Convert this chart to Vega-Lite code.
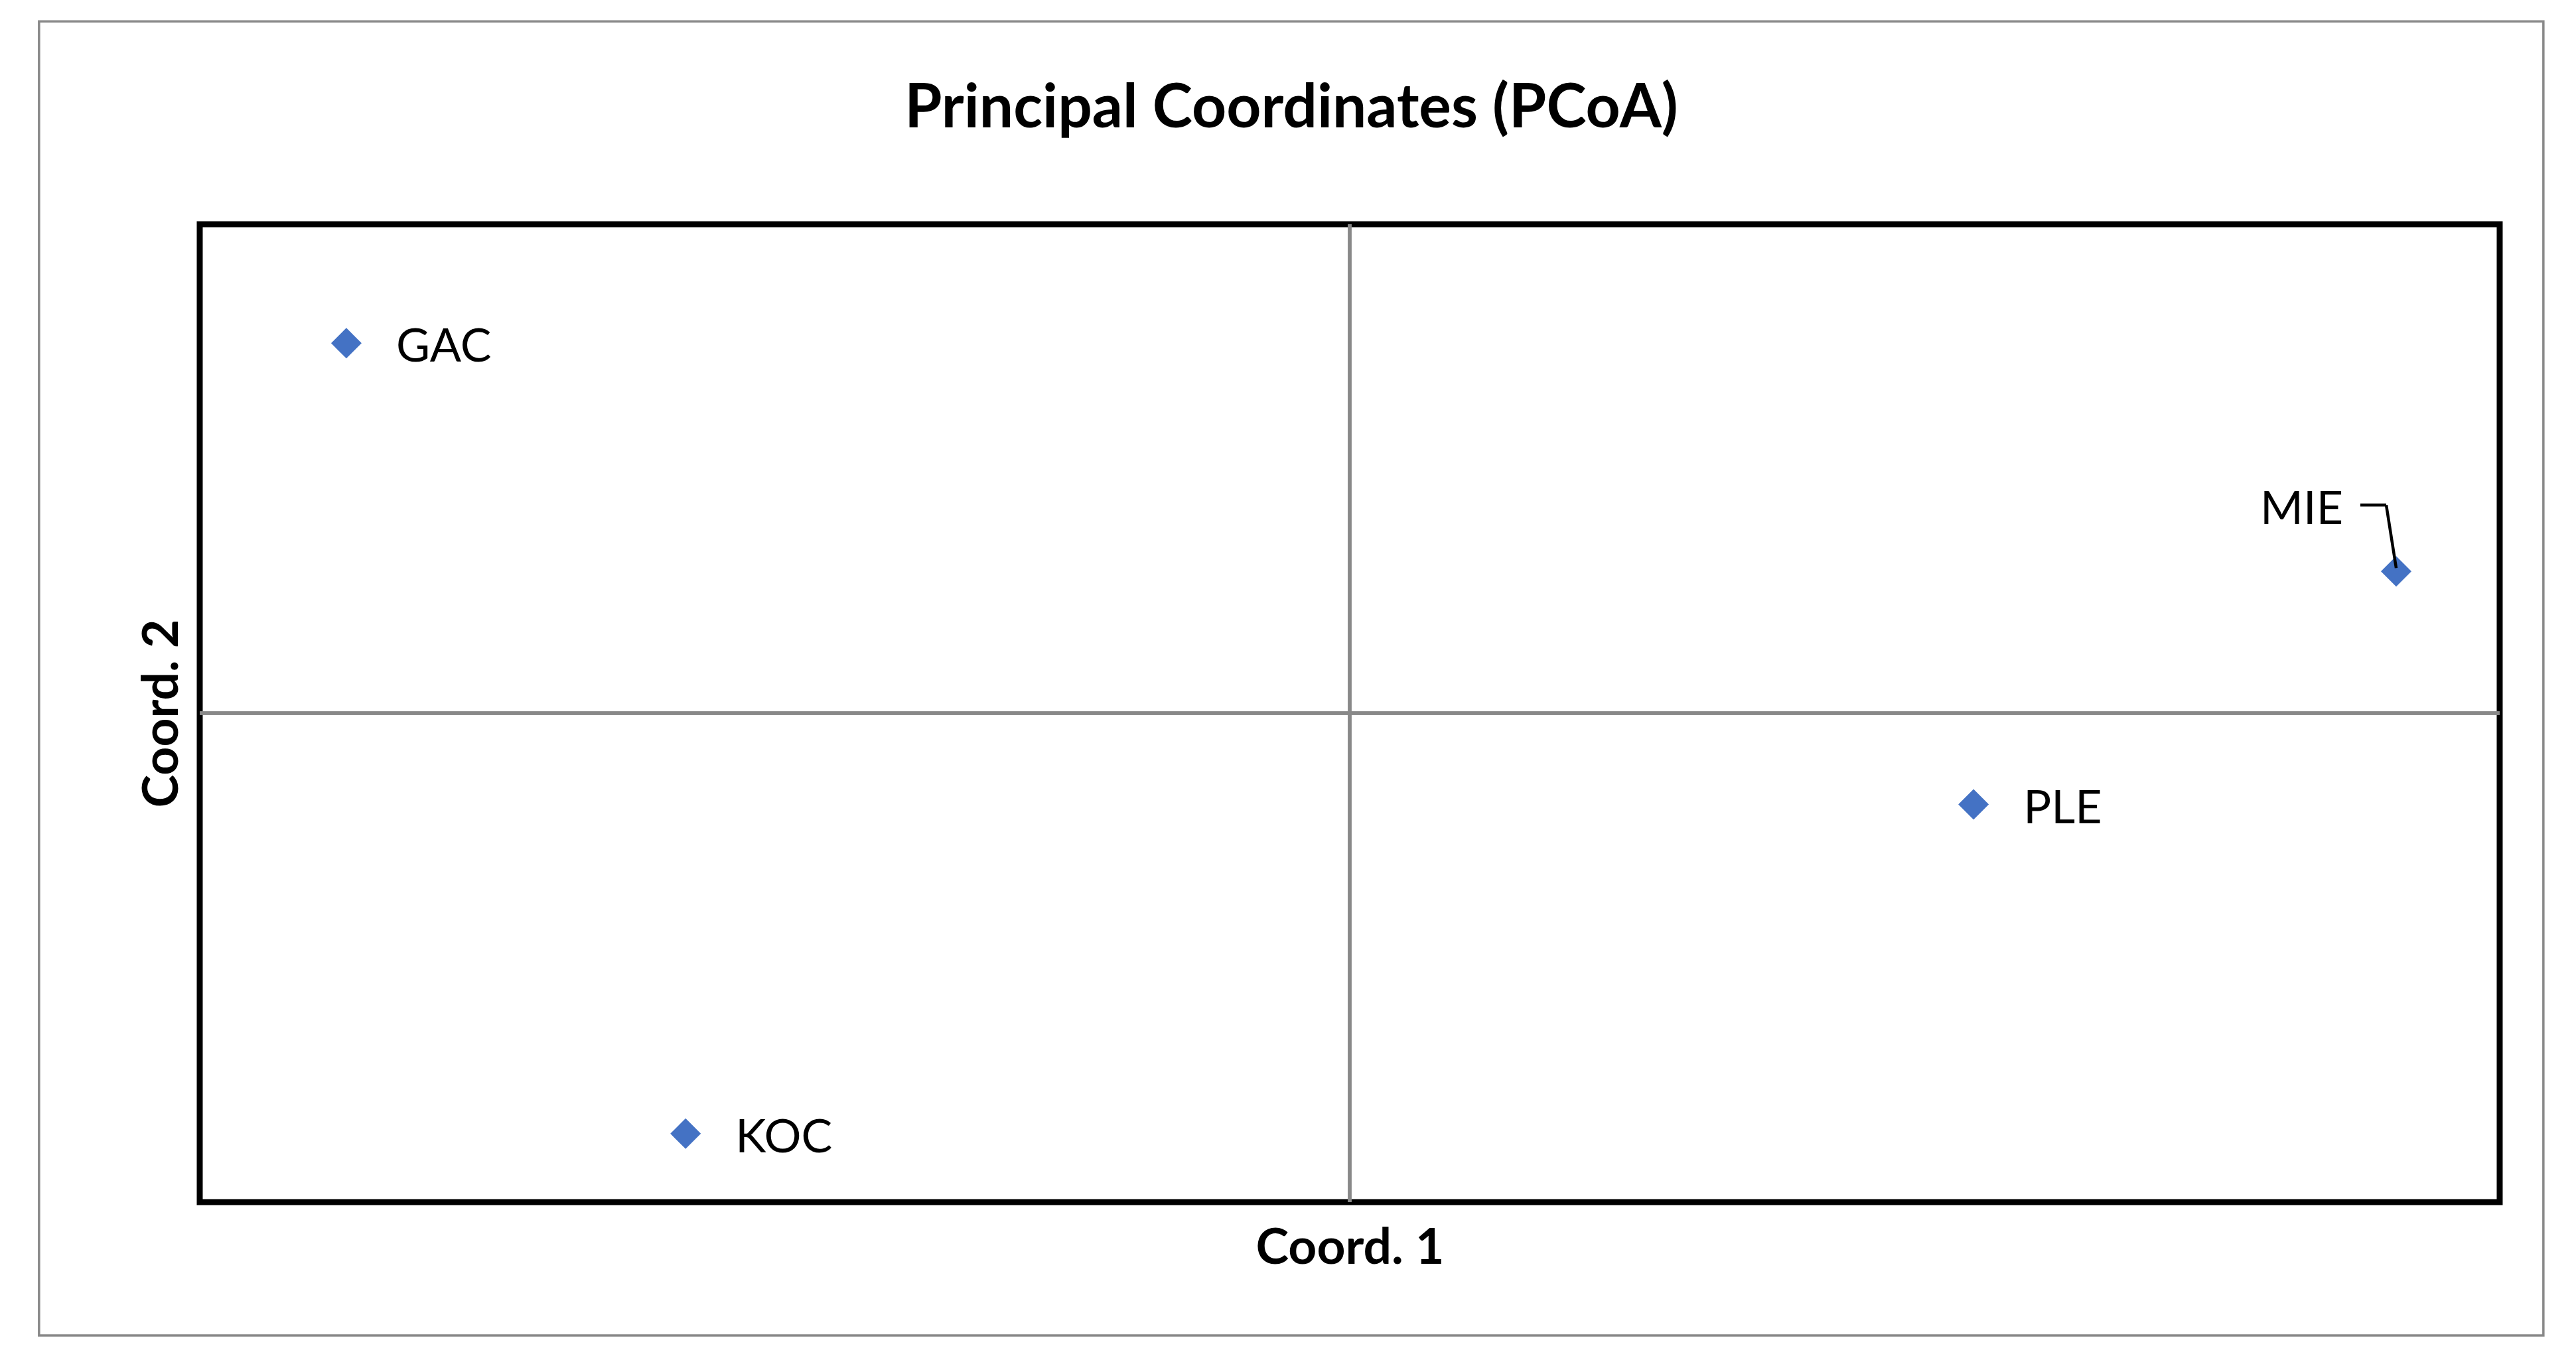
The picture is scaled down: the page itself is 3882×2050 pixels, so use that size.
{
  "$schema": "https://vega.github.io/schema/vega-lite/v6.json",
  "width": 3466,
  "height": 1474,
  "autosize": {"type": "none"},
  "padding": {"left": 301, "top": 338, "right": 115, "bottom": 238},
  "background": "white",
  "config": {
    "view": {"stroke": "black", "strokeWidth": 9},
    "font": "Lato"
  },
  "title": {
    "text": "Principal Coordinates (PCoA)",
    "font": "Lato",
    "fontSize": 91,
    "fontWeight": "bold",
    "color": "black",
    "anchor": "middle",
    "dx": -88,
    "offset": -181
  },
  "data": {
    "values": [
      {"pop": "GAC", "coord1": -0.349, "coord2": 0.227},
      {"pop": "KOC", "coord1": -0.231, "coord2": -0.258},
      {"pop": "PLE", "coord1": 0.217, "coord2": -0.056},
      {"pop": "MIE", "coord1": 0.364, "coord2": 0.087}
    ]
  },
  "encoding": {
    "x": {
      "field": "coord1",
      "type": "quantitative",
      "scale": {"domain": [-0.4, 0.4], "nice": false, "zero": false},
      "axis": {
        "title": "Coord. 1",
        "labels": false,
        "ticks": false,
        "domain": false,
        "grid": false,
        "titleFont": "Lato",
        "titleFontSize": 75,
        "titleFontWeight": "bold",
        "titleColor": "black",
        "titleBaseline": "alphabetic",
        "titlePadding": 92
      }
    },
    "y": {
      "field": "coord2",
      "type": "quantitative",
      "scale": {"domain": [-0.3, 0.3], "nice": false, "zero": false},
      "axis": {
        "title": "Coord. 2",
        "labels": false,
        "ticks": false,
        "domain": false,
        "grid": false,
        "titleFont": "Lato",
        "titleFontSize": 75,
        "titleFontWeight": "bold",
        "titleColor": "black",
        "titleBaseline": "alphabetic",
        "titlePadding": 34
      }
    }
  },
  "layer": [
    {
      "data": {"values": [{"x1": -0.4559, "x2": 0.4152, "y1": 0.4245, "y2": -0.3818}]},
      "mark": {"type": "rect", "fill": null, "stroke": "#898989", "strokeWidth": 3.5},
      "encoding": {
        "x": {"field": "x1", "type": "quantitative"},
        "x2": {"field": "x2"},
        "y": {"field": "y1", "type": "quantitative"},
        "y2": {"field": "y2"}
      }
    },
    {
      "mark": {"type": "rule", "color": "#898989", "strokeWidth": 5},
      "encoding": {"x": {"datum": 0}, "y": null}
    },
    {
      "mark": {"type": "rule", "color": "#898989", "strokeWidth": 5},
      "encoding": {"y": {"datum": 0}, "x": null}
    },
    {
      "mark": {"type": "point", "shape": "diamond", "filled": true, "size": 2116, "color": "#4472C4", "opacity": 1}
    },
    {
      "transform": [{"filter": "datum.pop === 'MIE'"}],
      "mark": {"type": "rule", "color": "black", "strokeWidth": 4.5, "xOffset": -54, "x2Offset": -15, "yOffset": -100, "y2Offset": -100},
      "encoding": {"x2": {"field": "coord1"}, "y2": {"field": "coord2"}}
    },
    {
      "transform": [{"filter": "datum.pop === 'MIE'"}],
      "mark": {"type": "rule", "color": "black", "strokeWidth": 4.5, "xOffset": -15, "x2Offset": 0, "yOffset": -100, "y2Offset": -5},
      "encoding": {"x2": {"field": "coord1"}, "y2": {"field": "coord2"}}
    },
    {
      "transform": [{"filter": "datum.pop !== 'MIE'"}],
      "mark": {"type": "text", "font": "Lato", "fontSize": 70, "color": "black", "align": "left", "baseline": "alphabetic", "dx": 75, "dy": 28},
      "encoding": {"text": {"field": "pop"}}
    },
    {
      "transform": [{"filter": "datum.pop === 'MIE'"}],
      "mark": {"type": "text", "font": "Lato", "fontSize": 70, "color": "black", "align": "left", "baseline": "alphabetic", "dx": -205, "dy": -71},
      "encoding": {"text": {"field": "pop"}}
    }
  ]
}
